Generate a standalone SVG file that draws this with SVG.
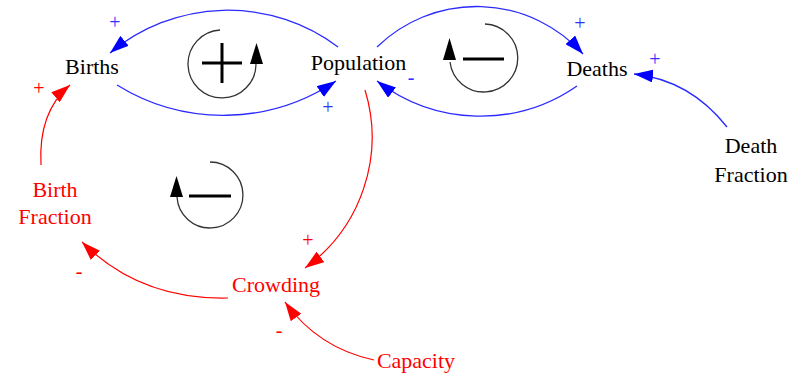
<svg xmlns="http://www.w3.org/2000/svg" width="799" height="377" viewBox="0 0 799 377">
<defs>
<style>
.lbl{font-family:"Liberation Serif","Times New Roman",serif;font-size:22px;text-anchor:middle}
.blk{fill:#000}
.red{fill:#ff0000}
.sgn{font-family:"Liberation Serif","Times New Roman",serif;font-size:20px;text-anchor:middle}
.sb{fill:#3030ff}
.sr{fill:#ff0000}
.lb{fill:none;stroke:#2a2aff;stroke-width:1.3}
.lr{fill:none;stroke:#ff0000;stroke-width:1.2}
.loop{fill:none;stroke:#333;stroke-width:1.3}
.bar{stroke:#000;stroke-width:3}
</style>
<marker id="ab" markerUnits="userSpaceOnUse" viewBox="0 0 19 13" refX="19" refY="6.5" markerWidth="19" markerHeight="13" orient="auto"><path d="M0,0 L19,6.5 L0,13 Z" fill="#0000ff"/></marker>
<marker id="ar" markerUnits="userSpaceOnUse" viewBox="0 0 19 13" refX="19" refY="6.5" markerWidth="19" markerHeight="13" orient="auto"><path d="M0,0 L19,6.5 L0,13 Z" fill="#ff0000"/></marker>
</defs>
<rect width="799" height="377" fill="#fff"/>
<g id="connectors">
<path class="lb" d="M338,47 A183.5,183.5 0 0 0 110,53" marker-end="url(#ab)"/>
<path class="lb" d="M117,85 A202,202 0 0 0 336,81" marker-end="url(#ab)"/>
<path class="lb" d="M377,47 A142.8,142.8 0 0 1 583,54" marker-end="url(#ab)"/>
<path class="lb" d="M577,86 A169.7,169.7 0 0 1 377,81" marker-end="url(#ab)"/>
<path class="lb" d="M727,127 Q690,80 634,74" marker-end="url(#ab)"/>
<path class="lr" d="M365,90 A161.2,161.2 0 0 1 305,268" marker-end="url(#ar)"/>
<path class="lr" d="M228,298 Q140,300 82,242" marker-end="url(#ar)"/>
<path class="lr" d="M374,360 Q318,348 285,302" marker-end="url(#ar)"/>
<path class="lr" d="M41,165 Q38,112 70,85" marker-end="url(#ar)"/>
</g>
<g id="polarities">
<text class="sgn sb" x="115" y="29">+</text>
<text class="sgn sr" x="39" y="95">+</text>
<text class="sgn sb" x="328" y="114">+</text>
<text class="sgn sb" x="411" y="84">-</text>
<text class="sgn sb" x="580" y="30">+</text>
<text class="sgn sb" x="655" y="66">+</text>
<text class="sgn sr" x="308" y="247">+</text>
<text class="sgn sr" x="79" y="278">-</text>
<text class="sgn sr" x="279" y="337">-</text>
</g>
<g id="loop-R">
<path class="loop" d="M220,30 A34,34 0 1 0 256,64"/>
<polygon points="250,64 263,64 256.5,43" fill="#000"/>
<line class="bar" x1="202" y1="63" x2="242" y2="63"/>
<line class="bar" x1="222" y1="43" x2="222" y2="83"/>
</g>
<g id="loop-B1">
<path class="loop" d="M485,24 A34,34 0 1 1 450,62"/>
<polygon points="443,60 456,60 449.5,38" fill="#000"/>
<line class="bar" x1="463" y1="59" x2="504" y2="59"/>
</g>
<g id="loop-B2">
<path class="loop" d="M210,162 A33,33 0 1 1 177,197"/>
<polygon points="170,197 183,197 176.5,176" fill="#000"/>
<line class="bar" x1="189" y1="196" x2="231" y2="196"/>
</g>
<g id="births"><text class="lbl blk" x="92" y="74">Births</text></g>
<g id="population"><text class="lbl blk" x="358.5" y="70">Population</text></g>
<g id="deaths"><text class="lbl blk" x="597" y="76">Deaths</text></g>
<g id="death-fraction"><text class="lbl blk" x="751" y="153">Death</text><text class="lbl blk" x="751" y="182">Fraction</text></g>
<g id="birth-fraction"><text class="lbl red" x="55" y="197">Birth</text><text class="lbl red" x="55" y="224">Fraction</text></g>
<g id="crowding"><text class="lbl red" x="276" y="292">Crowding</text></g>
<g id="capacity"><text class="lbl red" x="416" y="368">Capacity</text></g>
</svg>
